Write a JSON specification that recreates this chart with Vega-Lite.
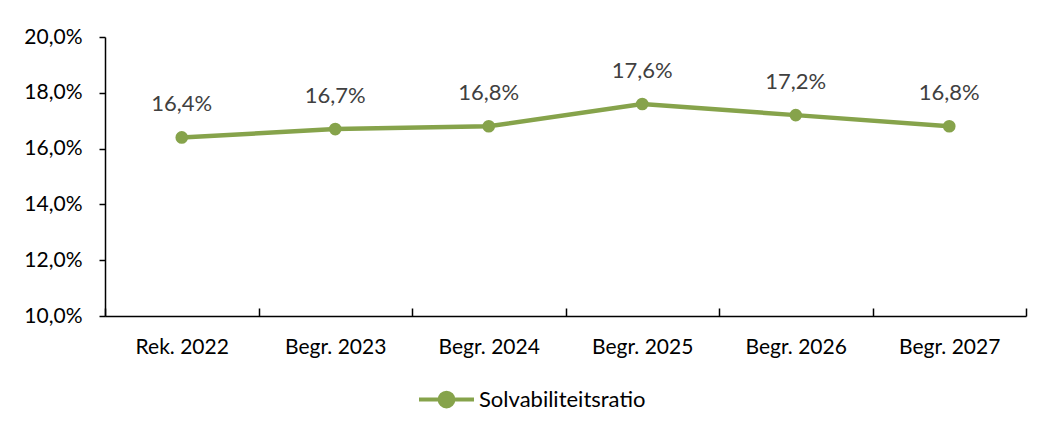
{
  "$schema": "https://vega.github.io/schema/vega-lite/v6.json",
  "width": 921,
  "height": 279,
  "autosize": "none",
  "padding": {"left": 105, "top": 37, "right": 15, "bottom": 118},
  "background": "#ffffff",
  "config": {
    "locale": {"number": {"decimal": ",", "thousands": ".", "grouping": [3], "currency": ["€", ""]}},
    "view": {"stroke": null},
    "font": "Lato",
    "axis": {"labelFont": "Lato", "labelFontSize": 21, "labelColor": "#000000", "domainColor": "#000000", "tickColor": "#000000", "domainWidth": 1.5, "tickWidth": 1.5, "grid": false, "title": null}
  },
  "data": {
    "values": [
      {"jaar": "Rek. 2022", "waarde": 0.164, "reeks": "Solvabiliteitsratio"},
      {"jaar": "Begr. 2023", "waarde": 0.167, "reeks": "Solvabiliteitsratio"},
      {"jaar": "Begr. 2024", "waarde": 0.168, "reeks": "Solvabiliteitsratio"},
      {"jaar": "Begr. 2025", "waarde": 0.176, "reeks": "Solvabiliteitsratio"},
      {"jaar": "Begr. 2026", "waarde": 0.172, "reeks": "Solvabiliteitsratio"},
      {"jaar": "Begr. 2027", "waarde": 0.168, "reeks": "Solvabiliteitsratio"}
    ]
  },
  "encoding": {
    "x": {
      "field": "jaar", "type": "nominal", "sort": null,
      "scale": {"paddingInner": 0, "paddingOuter": 0},
      "axis": {"labelAngle": 0, "tickBand": "extent", "tickSize": -8, "labelPadding": 28, "domainWidth": 1.5}
    },
    "y": {
      "field": "waarde", "type": "quantitative",
      "scale": {"domain": [0.10, 0.20], "nice": false, "zero": false},
      "axis": {"values": [0.10, 0.12, 0.14, 0.16, 0.18, 0.20], "format": ".1%", "tickSize": 6, "labelPadding": 17}
    }
  },
  "layer": [
    {
      "mark": {"type": "line", "strokeWidth": 4.5, "color": "#86A34B"},
      "encoding": {
        "color": {
          "field": "reeks", "type": "nominal",
          "scale": {"range": ["#86A34B"]},
          "legend": {
            "orient": "none", "legendX": 312, "legendY": 333, "title": null,
            "labelFont": "Lato", "labelFontSize": 22, "labelColor": "#000000", "labelLimit": 400,
            "symbolType": "M-1,0H1M0.25,0A0.25,0.25 0 1,1 -0.25,0A0.25,0.25 0 1,1 0.25,0Z",
            "symbolSize": 3025, "symbolStrokeWidth": 4, "symbolFillColor": "#86A34B", "symbolStrokeColor": "#86A34B",
            "labelOffset": 3
          }
        }
      }
    },
    {
      "mark": {"type": "point", "filled": true, "size": 160, "color": "#86A34B", "opacity": 1}
    },
    {
      "mark": {"type": "text", "dy": -33, "fontSize": 22, "font": "Lato", "color": "#404040"},
      "encoding": {"text": {"field": "waarde", "type": "quantitative", "format": ".1%"}}
    }
  ]
}
